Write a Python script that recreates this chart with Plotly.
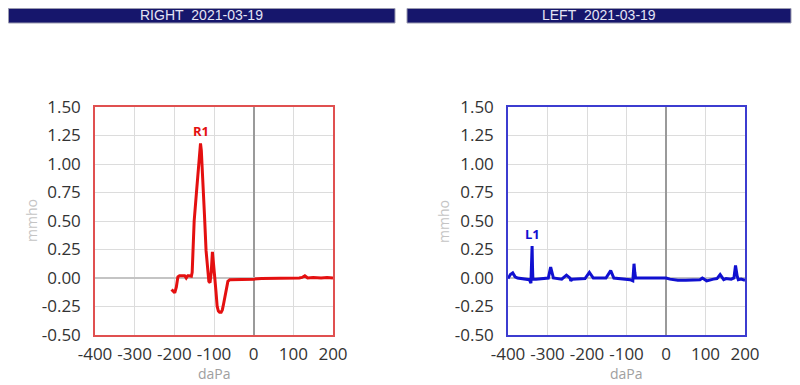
import plotly.graph_objects as go

# ---- data ----
right_p = [-207, -204, -199, -195, -191, -187, -180, -174, -170, -166, -163, -157, -155, -153, -150, -144,
           -139, -136, -134, -132, -128, -124, -120, -116, -113, -110, -107, -104, -101, -98, -95, -92,
           -89, -86, -82, -79, -76, -73, -69, -65, -60, -56, -40, -20, 0, 20, 40, 60, 80, 100, 115,
           122, 129, 136, 150, 170, 185, 200]
right_y = [-0.10, -0.11, -0.13, -0.08, 0.01, 0.02, 0.02, 0.02, 0.0, 0.02, 0.02, 0.015, 0.05, 0.24, 0.50, 0.76,
           0.98, 1.12, 1.18, 1.12, 0.89, 0.55, 0.24, 0.05, -0.03, -0.04, 0.05, 0.23, 0.08, 0.0, -0.12, -0.25,
           -0.29, -0.30, -0.30, -0.28, -0.23, -0.17, -0.08, -0.03, -0.015, -0.015, -0.01, -0.01, -0.01, -0.005,
           -0.005, -0.005, 0.0, 0.0, 0.0, 0.005, 0.02, 0.0, 0.005, 0.0, 0.005, 0.0]

left_p = [-400, -394, -388, -382, -376, -360, -346, -342, -340, -339, -338, -337, -329, -310, -298, -292,
          -285, -264, -252, -243, -241, -237, -205, -194, -184, -152, -140, -132, -110, -91, -84, -82, -81,
          -79, -77, -40, 0, 10, 30, 50, 70, 86, 92, 103, 120, 129, 137, 146, 152, 165, 172, 176, 180, 183,
          190, 200]
left_y = [-0.005, 0.03, 0.045, 0.01, 0.0, -0.005, -0.015, -0.045, 0.1, 0.28, 0.1, -0.01, -0.01, -0.005, 0.0, 0.095,
          0.0, -0.01, 0.025, 0.0, -0.025, -0.01, -0.005, 0.05, 0.0, 0.0, 0.065, 0.0, -0.005, -0.015, -0.025, 0.05, 0.125,
          0.05, 0.0, 0.0, 0.0, -0.01, -0.02, -0.02, -0.02, -0.015, 0.0, -0.025, -0.01, -0.005, 0.03, -0.015, -0.005, -0.01, 0.0, 0.11,
          0.02, -0.015, -0.01, -0.02]

x_ticks = [-400, -300, -200, -100, 0, 100, 200]
x_labels = ["-400", "-300", "-200", "-100", "0", "100", "200"]
y_ticks = [-0.5, -0.25, 0.0, 0.25, 0.5, 0.75, 1.0, 1.25, 1.5]
y_labels = ["-0.50", "-0.25", "0.00", "0.25", "0.50", "0.75", "1.00", "1.25", "1.50"]
titles = ["RIGHT\u00a0\u00a02021-03-19", "LEFT\u00a0\u00a02021-03-19"]
peak_labels = [("R1", -134, 1.18), ("L1", -339, 0.28)]

# the page body has an 8px margin, so the figure is drawn 8px smaller and positions shifted
OFF = 8
W, H = 800 - OFF, 385 - OFF
RED, BLUE = "#e41010", "#1010d0"
FONT = "Open Sans"


def fx(x):
    return (x - OFF) / W


def fy(y):
    return (H - (y - OFF)) / H


fig = go.Figure()
fig.add_trace(go.Scatter(x=right_p, y=right_y, mode="lines", line=dict(color=RED, width=3),
                         xaxis="x", yaxis="y", showlegend=False))
fig.add_trace(go.Scatter(x=left_p, y=left_y, mode="lines", line=dict(color=BLUE, width=3),
                         xaxis="x2", yaxis="y2", showlegend=False))

ydom = [fy(335), fy(107)]


def xax(dom, border, anchor):
    return dict(domain=dom, range=[-400, 200], tickvals=x_ticks, ticktext=x_labels, tickangle=0,
                showgrid=True, gridcolor="#dcdcdc", gridwidth=1,
                zeroline=True, zerolinecolor="#9a9a9a", zerolinewidth=2,
                showline=True, linecolor=border, linewidth=1.5, mirror=True,
                ticks="", ticklabelstandoff=3, tickfont=dict(family=FONT, size=17, color="#333"),
                anchor=anchor, fixedrange=True, automargin=False)


def yax(border, anchor):
    return dict(domain=ydom, range=[-0.5, 1.5], tickvals=y_ticks, ticktext=y_labels,
                showgrid=True, gridcolor="#dcdcdc", gridwidth=1,
                zeroline=True, zerolinecolor="#c4c4c4", zerolinewidth=2,
                showline=True, linecolor=border, linewidth=1.5, mirror=True,
                ticks="", ticklabelstandoff=9, tickfont=dict(family=FONT, size=17, color="#333"),
                anchor=anchor, fixedrange=True, automargin=False)


fig.update_layout(
    width=W, height=H, margin=dict(l=0, r=0, t=0, b=0, autoexpand=False),
    paper_bgcolor="white", plot_bgcolor="white",
    xaxis=xax([fx(95), fx(333)], "#e05050", "y"),
    yaxis=yax("#e05050", "x"),
    xaxis2=xax([fx(508), fx(745)], "#3c3cd0", "y2"),
    yaxis2=yax("#3c3cd0", "x2"),
)

# title bars (kept inside the drawable area, which starts 8px down the page)
for (x0, x1), t in zip([(8.5, 395), (407, 791)], titles):
    fig.add_shape(type="rect", xref="paper", yref="paper",
                  x0=fx(x0), x1=fx(x1), y0=fy(23), y1=fy(8.5),
                  fillcolor="#16166c", line=dict(color="#9a9ab0", width=1))
    fig.add_annotation(xref="paper", yref="paper", x=fx((x0 + x1) / 2), y=fy(15.5),
                       text=t, showarrow=False, xanchor="center", yanchor="middle",
                       font=dict(family="Liberation Sans", size=14, color="#e4e4f4"))

# axis titles
for cx in (214, 626.5):
    fig.add_annotation(xref="paper", yref="paper", x=fx(cx), y=fy(373), text="daPa",
                       showarrow=False, xanchor="center", yanchor="middle",
                       font=dict(family=FONT, size=14, color="#a0a0a0"))
for cx in (31, 443):
    fig.add_annotation(xref="paper", yref="paper", x=fx(cx), y=fy(221), text="mmho",
                       showarrow=False, xanchor="center", yanchor="middle", textangle=-90,
                       font=dict(family=FONT, size=14, color="#c4c4c4"))

# peak labels
for (lab, px, py), (xr, yr, col) in zip(peak_labels, [("x", "y", RED), ("x2", "y2", BLUE)]):
    fig.add_annotation(xref=xr, yref=yr, x=px, y=py, text="<b>%s</b>" % lab, showarrow=False,
                       yanchor="bottom", yshift=1, font=dict(family=FONT, size=13, color=col))

fig.write_html("out.html")
